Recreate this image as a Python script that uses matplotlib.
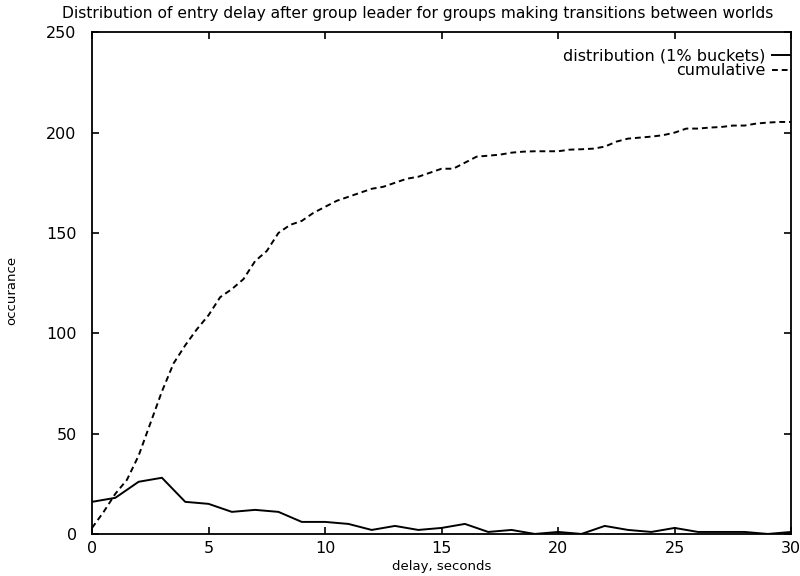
import numpy as np
import matplotlib
matplotlib.use('Agg')
import matplotlib.pyplot as plt

# distribution (1% buckets), one value per second of delay
dist_delay = list(range(0, 31))
dist_count = [16, 18, 26, 28, 16, 15, 11, 12, 11, 6, 6, 5, 2, 4, 2, 3,
              5, 1, 2, 0, 1, 0, 4, 2, 1, 3, 1, 1, 1, 0, 1]

# cumulative, read every half second
cum_delay = [i * 0.5 for i in range(0, 61)]
cum_count = [3, 11, 20, 27, 39, 55, 71, 85, 94, 102, 109, 118, 122, 127, 136, 141,
             150, 154, 156, 160, 163, 166, 168, 170, 172, 173, 175, 177, 178, 180,
             182, 182, 185, 188, 188.5, 189, 190, 190.5, 190.7, 190.7, 190.7, 191.5,
             191.7, 192, 193, 195.5, 197, 197.5, 198, 198.7, 200, 202, 202, 202.5,
             202.8, 203.5, 203.5, 204.5, 205, 205.3, 205.3]

x_ticks = [0, 5, 10, 15, 20, 25, 30]
y_ticks = [0, 50, 100, 150, 200, 250]

plt.rcParams['font.family'] = ['DejaVu Sans']
plt.rcParams['font.size'] = 10

fig = plt.figure(figsize=(8, 5.76), dpi=100)
ax = fig.add_axes([0.115, 0.073, 0.874, 0.871])

ax.plot(dist_delay, dist_count, color='black', linewidth=1.4,
        label='distribution (1% buckets)')
ax.plot(cum_delay, cum_count, color='black', linewidth=1.4,
        linestyle=(0, (3, 2)), label='cumulative')

ax.set_xlim(0, 30)
ax.set_ylim(0, 250)
ax.set_xticks(x_ticks)
ax.set_yticks(y_ticks)
ax.tick_params(direction='in', length=5, width=1.2, top=True, right=True,
               labelsize=11.5, pad=5)
ax.tick_params(axis='y', pad=11)
for s in ax.spines.values():
    s.set_linewidth(1.3)

ax.set_xlabel('delay, seconds', fontsize=9.5, labelpad=3)
fig.text(0.015, 0.495, 'occurance', rotation=90, ha='center', va='center',
         fontsize=9.5)
fig.text(0.522, 0.976, 'Distribution of entry delay after group leader for groups '
         'making transitions between worlds', ha='center', va='center',
         fontsize=11.2)

ax.legend(loc='upper right', bbox_to_anchor=(0.998, 0.968), frameon=False,
          markerfirst=False, handlelength=1.1, handletextpad=0.4,
          labelspacing=0.0, borderaxespad=0, borderpad=0, fontsize=11.5)

fig.savefig('out.png', dpi=100)
